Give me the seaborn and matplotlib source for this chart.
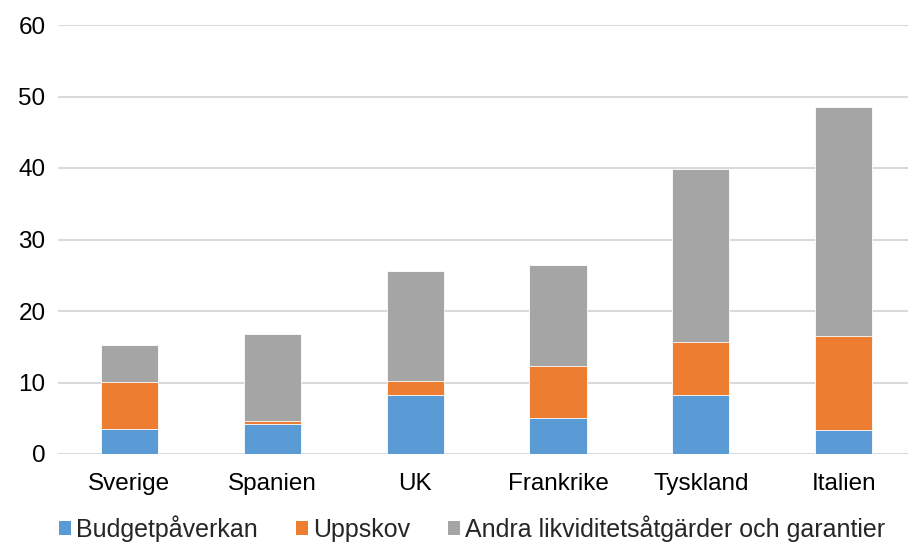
import matplotlib
matplotlib.use("Agg")
import matplotlib.pyplot as plt
import seaborn as sns
import numpy as np
from matplotlib.patches import Patch

# data
countries = ["Sverige", "Spanien", "UK", "Frankrike", "Tyskland", "Italien"]
budget = [3.5, 4.2, 8.3, 5.05, 8.3, 3.3]
uppskov = [6.6, 0.45, 1.95, 7.25, 7.3, 13.2]
andra = [5.2, 12.15, 15.35, 14.2, 24.2, 32.1]

series_names = ["Budgetpåverkan", "Uppskov", "Andra likviditetsåtgärder och garantier"]
colors = ["#5B9BD5", "#ED7D31", "#A5A5A5"]

sns.set_style("white")
plt.rcParams["font.family"] = ["Liberation Sans", "DejaVu Sans"]

level1 = np.array(budget)
level2 = level1 + np.array(uppskov)
level3 = level2 + np.array(andra)

fig = plt.figure(figsize=(9.08, 5.45), dpi=100)
ax = fig.add_axes([58 / 908, 91 / 545, 850 / 908, 429 / 545])

# stacked bars by drawing cumulative totals on top of each other
for vals, col in [(level3, colors[2]), (level2, colors[1]), (level1, colors[0])]:
    sns.barplot(x=countries, y=vals, color=col, width=0.4, ax=ax,
                edgecolor="white", linewidth=0.6, saturation=1)

ax.set_ylim(0, 60)
ax.set_xlim(-0.5, 5.45)
ax.set_yticks(range(0, 61, 10))
ax.yaxis.grid(True, color="#D9D9D9", linewidth=1.5)
ax.set_axisbelow(True)
for s in ax.spines.values():
    s.set_visible(False)
ax.tick_params(axis="both", length=0, labelsize=17.5, colors="black")
ax.tick_params(axis="y", pad=9)
ax.tick_params(axis="x", pad=14)
ax.set_xlabel("")
ax.set_ylabel("")

handles = [Patch(facecolor=c, edgecolor="none") for c in colors]
fig.legend(handles, series_names, loc="lower center", ncol=3, frameon=False,
           fontsize=18, bbox_to_anchor=(0.52, -0.035), handlelength=0.5,
           handleheight=0.5, handletextpad=0.2, columnspacing=1.5)

fig.savefig("out.png", dpi=100)
